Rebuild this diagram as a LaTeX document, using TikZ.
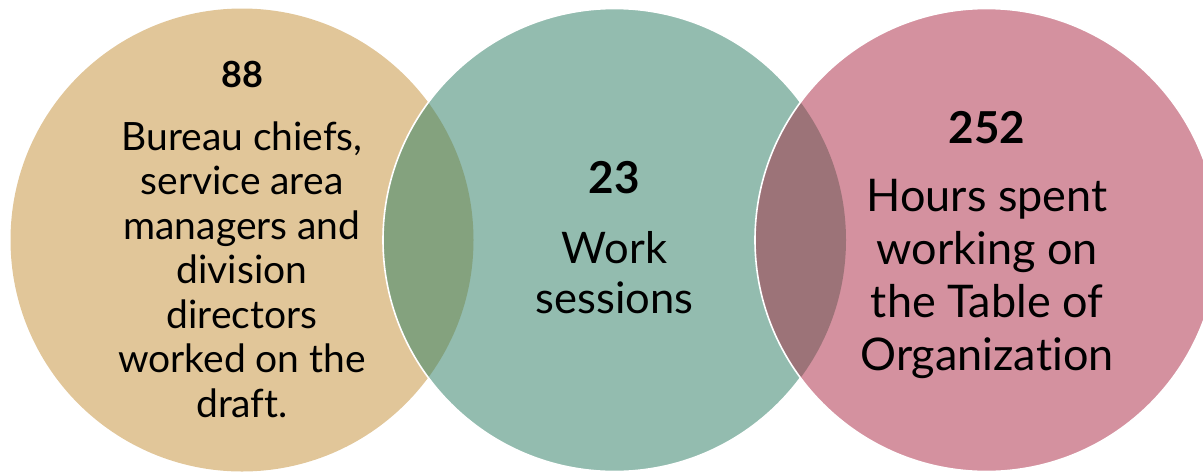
\documentclass[tikz,border=0pt]{standalone}
\usepackage{fontspec}
\setmainfont{Lato}[Ligatures={NoCommon}]
\definecolor{tanC}{HTML}{E1C699}
\definecolor{greenC}{HTML}{93BCAF}
\definecolor{pinkC}{HTML}{D4919F}
\definecolor{lensL}{HTML}{84A27E}
\definecolor{lensR}{HTML}{9C7378}
\begin{document}
\begin{tikzpicture}[x=1pt,y=-1pt,
  disc/.style={circle,minimum size=463pt,inner sep=0pt},
  rim/.style={draw=white,line width=1.6pt},
  numL/.style={anchor=base,font=\fontsize{36}{40}\selectfont\bfseries},
  numR/.style={anchor=base,font=\fontsize{44}{48}\selectfont\bfseries},
  bodyL/.style={anchor=base,align=center,inner sep=0pt,font=\fontsize{39}{44.5}\selectfont},
  bodyM/.style={anchor=base,align=center,inner sep=0pt,font=\fontsize{43.5}{50}\selectfont},
  bodyR/.style={anchor=base,align=center,inner sep=0pt,font=\fontsize{45}{52.7}\selectfont}]
\useasboundingbox (0,0) rectangle (1203,472);
\node[disc] (L) at (242,240) {};
\node[disc] (M) at (614.5,240) {};
\fill[tanC] (L.center) circle[radius=231.5];
\fill[greenC] (M.center) circle[radius=231.5];
\begin{scope}
  \clip (M.center) circle[radius=231.5];
  \fill[lensL] (L.center) circle[radius=231.5];
\end{scope}
\draw[rim] (M.center) circle[radius=231.5];
\node[disc] (R) at (986.5,240) {};
\fill[pinkC] (R.center) circle[radius=231.5];
\begin{scope}
  \clip (R.center) circle[radius=231.5];
  \fill[lensR] (M.center) circle[radius=231.5];
\end{scope}
\draw[rim] (R.center) circle[radius=231.5];
% texts (anchor base = baseline of the last line)
\node[numL] (n88) at (242,87) {88};
\node[bodyL] (tL) at (242,417) {Bureau chiefs,\\service area\\managers and\\division\\directors\\worked on the\\draft.};
\node[numR] (n23) at (614.5,193) {23};
\node[bodyM] (tM) at (614.5,313) {Work\\sessions};
\node[numR] (n252) at (987,143) {252};
\node[bodyR] (tR) at (987,370) {Hours spent\\working on\\the Table of\\Organization};
\end{tikzpicture}
\end{document}
